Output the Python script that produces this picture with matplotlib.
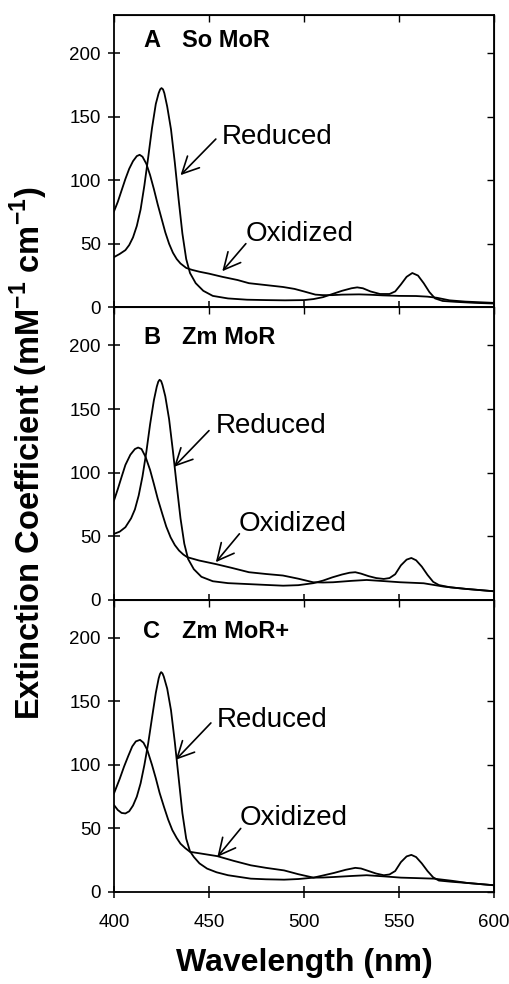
import matplotlib
matplotlib.use("Agg")
import matplotlib.pyplot as plt

plt.rcParams['font.family'] = ['Liberation Sans', 'DejaVu Sans']
plt.rcParams['mathtext.fontset'] = 'custom'
plt.rcParams['mathtext.rm'] = 'Liberation Sans'
plt.rcParams['mathtext.bf'] = 'Liberation Sans:bold'

# ---------------- data ----------------
panel_letters = ["A", "B", "C"]
panel_names = ["So MoR", "Zm MoR", "Zm MoR+"]

# Panel A: So MoR
a_red_x = [400, 403, 406, 408, 410, 412, 414, 416, 418, 420, 422, 423.5, 424.3, 425, 425.8, 426.5, 428, 430,
           432, 434, 436, 438, 440, 443, 447, 452, 460, 470, 480, 490, 500, 505, 510, 515, 520, 525, 528,
           531, 535, 540, 545, 548, 551, 554, 557, 560, 563, 566, 569, 573, 580, 590, 600]
a_red_y = [39.5, 42, 45, 49, 55, 64, 77, 96, 118, 141, 160, 168.5, 171.5, 172.5, 171.5, 168.5, 158, 140,
           114, 85, 58, 38, 27, 19, 13, 9, 7, 6, 5.7, 5.5, 5.7, 6.5, 8, 10.5, 13, 15, 15.7,
           15, 12.5, 10.5, 10.5, 12.5, 18, 24, 27, 25, 19, 12, 7, 5, 4.3, 3.5, 3]
a_ox_x = [400, 402, 404, 406, 408, 410, 412, 413.5, 415, 417, 419, 421, 423, 425, 427, 429, 431, 433,
          435, 438, 441, 445, 450, 457, 465, 471, 480, 489, 495, 500, 506, 510, 515, 520, 529, 535,
          541.5, 550, 559, 565, 570, 576.6, 585, 600]
a_ox_y = [75.5, 83, 92, 101, 109, 115, 119, 120, 118.5, 113, 104, 93, 81, 70, 59, 50, 43, 38,
          34.5, 31, 29.5, 28, 26.5, 24, 21.5, 19, 17.5, 16, 14.5, 12.5, 10, 9.6, 9.6, 10, 10.2, 9.9,
          9.4, 9, 8.9, 8.4, 7.5, 5.5, 4.5, 3.5]

# Panel B: Zm MoR
b_red_x = [400, 403, 406, 409, 411, 413, 415, 417, 419, 421, 422.5, 423.3, 424, 424.8, 425.5, 427, 429, 431,
           433, 435, 437, 439, 442, 446, 452, 460, 470, 480, 489, 497, 505, 510, 515, 520, 524, 527, 530,
           534, 538, 542, 545, 548, 551, 554, 556.5, 559, 562, 565, 568, 571, 577, 585, 600]
b_red_y = [51.8, 53.5, 57, 64, 71, 82, 97, 116, 138, 157, 167.5, 171.5, 173, 172, 169, 160, 142, 117,
           90, 64, 44, 32, 24, 18, 14.5, 13, 12.3, 11.6, 11, 11.4, 13, 15, 17.6, 19.8, 21.2, 21.6, 20.5,
           18.5, 17, 16.3, 17, 20, 27, 31.5, 32.8, 31, 26, 19.5, 14, 11.5, 9.7, 8.5, 6.6]
b_ox_x = [400, 402, 404, 406, 408.6, 411, 412.7, 414.5, 416.6, 419, 421, 423, 425.4, 427.5, 429.8, 432,
          434.2, 436.5, 438.6, 444.8, 453.6, 462, 471, 480, 488.9, 497, 504.8, 510, 515.3, 525, 533,
          542, 550.6, 563, 573.5, 585, 600]
b_ox_y = [78, 87, 96.6, 106, 114, 118.5, 119.7, 118.5, 112.4, 102, 91, 79.5, 67.6, 57.5, 49, 43,
          38.7, 35.5, 33.4, 30.8, 28, 25, 21.6, 20.2, 19, 16.5, 13.7, 13.5, 13.7, 14.8, 15.5,
          14.6, 13.7, 12.9, 10.3, 8.5, 6.6]

# Panel C: Zm MoR+
c_red_x = [400, 402, 404, 406, 408, 410, 412, 414, 416, 418, 420, 422, 423.5, 424.2, 424.8, 425.5, 426.2, 428,
           430, 432, 434, 436, 438, 440, 442, 445, 449, 454, 460, 472, 480, 489.5, 497, 505, 510, 515.8,
           522, 527, 530, 533, 538, 542, 545, 548, 551, 554, 556.5, 559, 562, 565, 568, 571, 578, 586, 600]
c_red_y = [68.4, 64.5, 62.2, 61.8, 63.5, 68, 75, 85.5, 100, 117, 137, 156.6, 168, 171.5, 173, 172, 169.5, 160,
           143, 118, 90, 62, 42, 32, 27.6, 22.5, 18.4, 15.5, 13.2, 10.5, 10, 9.7, 10.2, 11.3, 13, 15,
           17.5, 19, 18.5, 17, 14.5, 13.2, 13.8, 16.5, 23.5, 28, 29.2, 27.5, 22.5, 16.5, 11.5, 9, 8, 7.1, 5.3]
c_ox_x = [400, 403, 405.3, 407.5, 409.6, 411.5, 413.7, 415.5, 417.5, 420, 422, 424, 426.3, 428.5, 430.7,
          433, 435, 437.5, 440, 445.6, 454.4, 463, 472, 480, 489.5, 497, 505, 510, 515.8, 525, 533,
          542, 551, 560, 568.4, 578, 586, 600]
c_ox_y = [77.6, 89, 98.7, 107, 114.5, 118.5, 119.7, 117.5, 111.8, 100, 89.5, 78, 67, 57, 48.7,
          42.5, 38, 34.5, 31.6, 30.3, 28.2, 24.5, 21, 19, 17, 14, 11.3, 11.4, 11.8, 12.6, 13.2,
          12.3, 11.3, 10.9, 10.5, 8.8, 7.1, 5.3]

reduced_x = [a_red_x, b_red_x, c_red_x]
reduced_y = [a_red_y, b_red_y, c_red_y]
oxidized_x = [a_ox_x, b_ox_x, c_ox_x]
oxidized_y = [a_ox_y, b_ox_y, c_ox_y]

x_ticks = [400, 450, 500, 550, 600]
y_ticks = [0, 50, 100, 150, 200]

# ---------------- layout ----------------
W, H = 510, 984
fig = plt.figure(figsize=(W / 100, H / 100), dpi=100)

x0, x1 = 114, 494
top_px, bot_px = 15, 892
ph = (bot_px - top_px) / 3.0

# annotation placements (data coords)
red_text = [(486, 134.4), (482.7, 136.6), (483.3, 135.5)]
red_tail = [(453.6, 132.4), (450, 133), (451, 133)]
red_head = [(435, 104), (431.6, 104.5), (432.5, 104)]
ox_text = [(497.5, 58), (494, 59.7), (494.7, 58)]
ox_tail = [(469.4, 50.1), (466, 51.8), (466.7, 50)]
ox_head = [(457, 28.4), (453.6, 29.5), (454.4, 27.6)]
lab_y = [204.5, 201, 200]

lw = 1.3
for i in range(3):
    top = top_px + i * ph
    bot = top + ph
    ax = fig.add_axes([x0 / W, 1 - bot / H, (x1 - x0) / W, ph / H])
    ax.plot(reduced_x[i], reduced_y[i], color='black', lw=lw, solid_joinstyle='round')
    ax.plot(oxidized_x[i], oxidized_y[i], color='black', lw=lw, solid_joinstyle='round')
    ax.set_xlim(400, 600)
    ax.set_ylim(0, 230)
    ax.set_xticks(x_ticks)
    ax.set_yticks(y_ticks)
    for s in ax.spines.values():
        s.set_linewidth(1.3)
    ax.tick_params(axis='y', which='both', left=True, right=False, direction='inout',
                   length=9, width=1.1, labelsize=13.5, pad=5)
    ax.tick_params(axis='x', which='both', bottom=True, top=False, direction='inout',
                   length=9, width=1.1, labelsize=13.5, pad=11)
    axr = ax.secondary_yaxis('right')
    axr.set_yticks(y_ticks)
    axr.tick_params(direction='in', length=5, width=1.0, labelright=False)
    axt = ax.secondary_xaxis('top')
    axt.set_xticks(x_ticks)
    axt.tick_params(direction='in', length=5, width=1.0, labeltop=False)
    if i < 2:
        ax.tick_params(axis='x', labelbottom=False)

    ax.text(415.3, lab_y[i], panel_letters[i], fontsize=17, fontweight='bold', ha='left', va='baseline')
    ax.text(435.6, lab_y[i], panel_names[i], fontsize=17, fontweight='bold', ha='left', va='baseline')

    ax.text(red_text[i][0], red_text[i][1], "Reduced", fontsize=20, ha='center', va='center')
    ax.text(ox_text[i][0], ox_text[i][1], "Oxidized", fontsize=20, ha='center', va='center')
    ap = dict(arrowstyle='->,head_length=0.6,head_width=0.3', lw=1.2, color='black',
              shrinkA=0, shrinkB=0, mutation_scale=20)
    ax.annotate('', xy=red_head[i], xytext=red_tail[i], arrowprops=ap)
    ax.annotate('', xy=ox_head[i], xytext=ox_tail[i], arrowprops=ap)

fig.text(29 / W, 1 - 453 / H, r'Extinction Coefficient (mM$^{\mathbf{-1}}$ cm$^{\mathbf{-1}}$)',
         rotation=90, fontsize=23.5, fontweight='bold', ha='center', va='center')
fig.text(304 / W, 1 - 963 / H, 'Wavelength (nm)', fontsize=23, fontweight='bold',
         ha='center', va='center')

fig.savefig('out.png', dpi=100)
